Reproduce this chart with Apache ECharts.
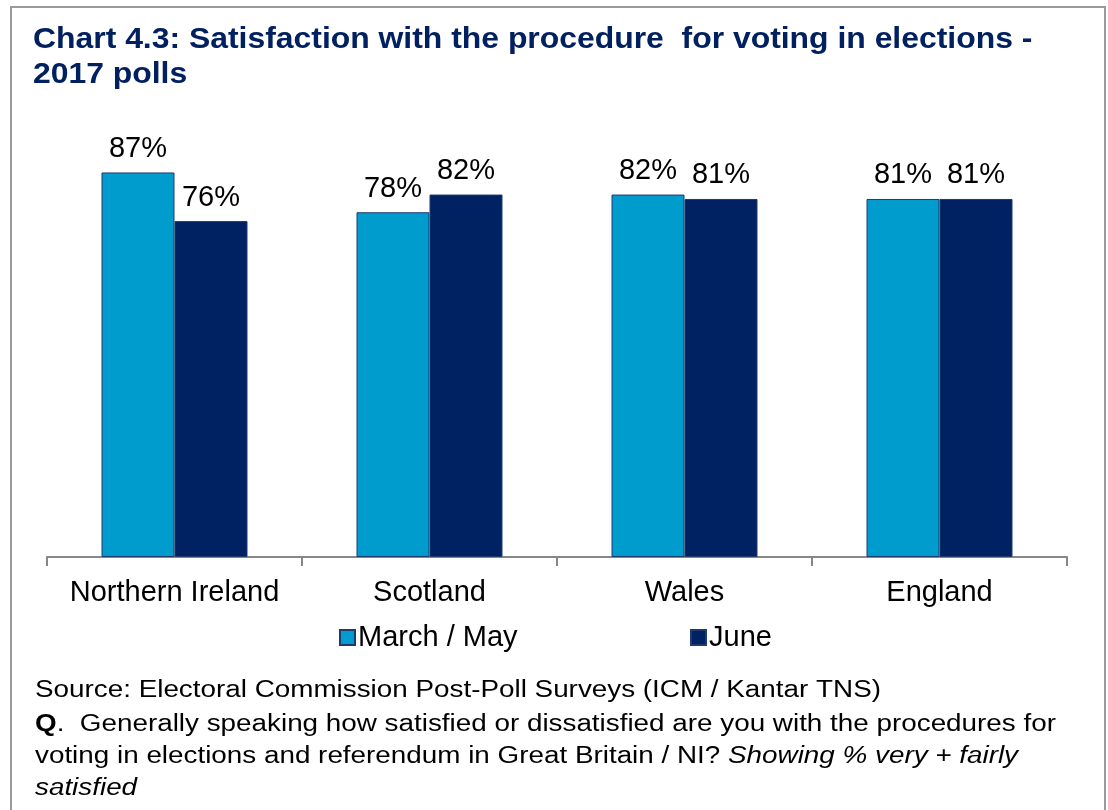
<!DOCTYPE html>
<html>
<head>
<meta charset="utf-8">
<script src="https://cdn.jsdelivr.net/npm/echarts@6/dist/echarts.min.js"></script>
<style>
html,body{margin:0;padding:0;background:#fff;}
#frame{position:absolute;left:10px;top:6px;width:1096px;height:820px;border:2px solid #9a9a9a;box-sizing:border-box;}
#chart{position:absolute;left:0;top:0;width:1108px;height:810px;}
</style>
</head>
<body>
<div id="frame"></div>
<div id="chart"></div>
<script>
const categories = ['Northern Ireland', 'Scotland', 'Wales', 'England'];
const seriesNames = ['March / May', 'June'];
const marchMay = [87, 78, 82, 81];
const june = [76, 82, 81, 81];
const titleLines = ['Chart 4.3: Satisfaction with the procedure  for voting in elections -', '2017 polls'];
const sourceText = 'Source: Electoral Commission Post-Poll Surveys (ICM / Kantar TNS)';

const FONT = 'Liberation Sans, Arial, sans-serif';
const chart = echarts.init(document.getElementById('chart'), null, {renderer: 'canvas'});

const labelCfg = {
  show: true, position: 'top', distance: 9,
  color: '#000', fontSize: 29, fontFamily: FONT,
  formatter: p => Math.round(p.value) + '%'
};

chart.setOption({
  animation: false,
  backgroundColor: 'transparent',
  grid: {left: 47, right: 41, top: 115, bottom: 253, containLabel: false},
  legend: [
    {data: [seriesNames[0]], left: 334, top: 618, icon: 'rect', itemWidth: 15, itemHeight: 15, itemGap: 0,
     textStyle: {fontSize: 29, fontFamily: FONT, color: '#000', padding: [0, 0, 0, -2]}},
    {data: [seriesNames[1]], left: 685, top: 618, icon: 'rect', itemWidth: 15, itemHeight: 15, itemGap: 0,
     textStyle: {fontSize: 29, fontFamily: FONT, color: '#000', padding: [0, 0, 0, -2]}}
  ],
  xAxis: {
    type: 'category', data: categories, boundaryGap: true,
    axisLine: {lineStyle: {color: '#878787', width: 2}},
    axisTick: {show: true, length: 9, lineStyle: {color: '#878787', width: 2}},
    axisLabel: {interval: 0, color: '#000', fontSize: 29, fontFamily: FONT, margin: 21}
  },
  yAxis: {
    type: 'value', min: 0, max: 100, show: false,
    splitLine: {show: false}
  },
  series: [
    {name: seriesNames[0], type: 'bar', data: marchMay, barWidth: 73, barGap: '0%',
     itemStyle: {color: '#009CCD', borderColor: '#1F3A6E', borderWidth: 1},
     label: labelCfg},
    {name: seriesNames[1], type: 'bar', data: june, barWidth: 73, barGap: '0%',
     itemStyle: {color: '#002262', borderColor: '#1F3A6E', borderWidth: 1},
     label: labelCfg}
  ],
  graphic: [
    {type: 'text', x: 33, y: 22, scaleX: 1.063, style: {
      text: titleLines.join('\n'), fontSize: 30, fontWeight: 'bold', fontFamily: FONT,
      fill: '#002060', lineHeight: 35}},
    {type: 'text', x: 35, y: 679, scaleX: 1.21, style: {text: sourceText, fontSize: 23, fontFamily: FONT, fill: '#000'}},
    {type: 'text', x: 35, y: 709, scaleX: 1.21, style: {
      text: '{b|Q}.  Generally speaking how satisfied or dissatisfied are you with the procedures for\nvoting in elections and referendum in Great Britain / NI? {i|Showing % very + fairly}\n{i|satisfied}',
      fontSize: 23, fontFamily: FONT, fill: '#000', lineHeight: 32,
      rich: {
        b: {fontWeight: 'bold', fontSize: 23, fontFamily: FONT, fill: '#000', lineHeight: 32},
        i: {fontStyle: 'italic', fontSize: 23, fontFamily: FONT, fill: '#000', lineHeight: 32}
      }
    }}
  ]
});
</script>
</body>
</html>
